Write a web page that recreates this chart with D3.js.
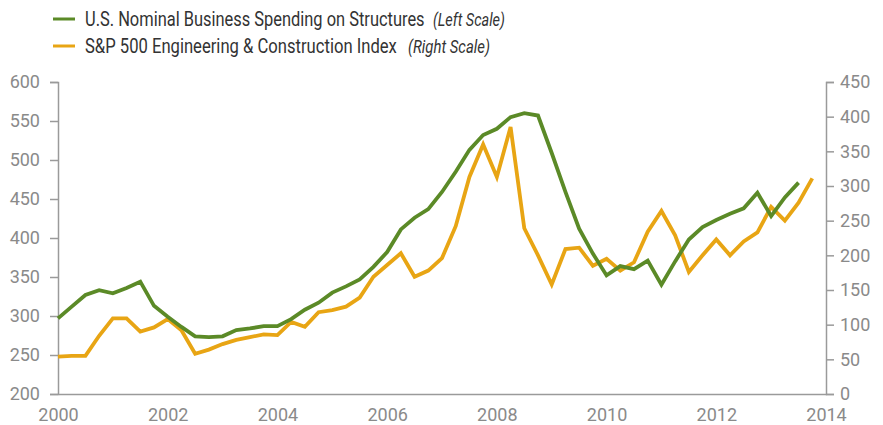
<!DOCTYPE html>
<html>
<head>
<meta charset="utf-8">
<script src="https://cdn.jsdelivr.net/npm/d3@7"></script>
<style>
  body { margin: 0; background: #fff; }
  svg text { font-family: "Roboto", "Liberation Sans", sans-serif; }
</style>
</head>
<body>
<svg width="883" height="425"></svg>
<script>
// quarterly data, first point = 2000 Q1
const startYear = 2000;

// U.S. nominal business spending on structures (left scale)
const spending = [
  297, 312, 327, 333, 329, 336, 344, 313, 299, 286,
  274, 273, 274, 282, 284, 287, 287, 296, 308, 317,
  330, 338, 347, 363, 382, 411, 426, 437, 459, 485,
  513, 532, 540, 555, 560, 557, 509, 459, 412, 380,
  352, 364, 360, 371, 340, 370, 398, 414, 423, 431,
  438, 458, 428, 452, 471
];

// S&P 500 engineering & construction index (right scale)
const spIndex = [
  54, 55, 55, 84, 109, 109, 90, 96, 108, 92,
  58, 64, 72, 78, 82, 86, 85, 104, 97, 118,
  121, 126, 139, 169, 186, 203, 169, 178, 196, 242,
  313, 360, 313, 385, 239, 200, 158, 209, 211, 185,
  195, 178, 190, 234, 264, 229, 176, 200, 223, 200,
  220, 233, 270, 250, 276, 311
];

const xTicks = [2000, 2002, 2004, 2006, 2008, 2010, 2012, 2014];
const leftTicks = [200, 250, 300, 350, 400, 450, 500, 550, 600];
const rightTicks = [0, 50, 100, 150, 200, 250, 300, 350, 400, 450];

const legendItems = [
  { name: 'U.S. Nominal Business Spending on Structures', note: '(Left Scale)', color: '#5b8a27' },
  { name: 'S&P 500 Engineering & Construction Index', note: '(Right Scale)', color: '#e8a514' }
];

const svg = d3.select('svg');
const margin = { top: 82, right: 57, bottom: 31, left: 58 };
const width = +svg.attr('width');
const height = +svg.attr('height');
const innerWidth = width - margin.left - margin.right;
const innerHeight = height - margin.top - margin.bottom;

const g = svg.append('g')
  .attr('transform', `translate(${margin.left},${margin.top})`);

const x = d3.scaleLinear().domain([2000, 2014]).range([0, innerWidth]);
const yLeft = d3.scaleLinear().domain([200, 600]).range([innerHeight, 0]);
const yRight = d3.scaleLinear().domain([0, 450]).range([innerHeight, 0]);

const axisColor = '#9a9a9a';
const labelColor = '#8a8a8a';

function styleAxis(sel) {
  sel.select('.domain').attr('stroke', axisColor).attr('stroke-width', 1.5);
  sel.selectAll('.tick line').attr('stroke', axisColor).attr('stroke-width', 1.5);
  sel.selectAll('.tick text')
    .attr('fill', labelColor)
    .style('font-size', '18px');
}

// left axis
g.append('g')
  .call(d3.axisLeft(yLeft).tickValues(leftTicks).tickSize(8).tickSizeOuter(8).tickPadding(10))
  .call(styleAxis);

// right axis
g.append('g')
  .attr('transform', `translate(${innerWidth},0)`)
  .call(d3.axisRight(yRight).tickValues(rightTicks).tickSize(8).tickSizeOuter(8).tickPadding(6))
  .call(styleAxis);

// bottom axis
g.append('g')
  .attr('transform', `translate(0,${innerHeight})`)
  .call(d3.axisBottom(x).tickValues(xTicks).tickFormat(d3.format('d')).tickSize(0).tickPadding(14))
  .call(styleAxis);

const t = (d, i) => x(startYear + i / 4);

const lineRight = d3.line().x((d, i) => t(d, i)).y(d => yRight(d));
const lineLeft = d3.line().x((d, i) => t(d, i)).y(d => yLeft(d));

g.append('path')
  .datum(spIndex)
  .attr('d', lineRight)
  .attr('fill', 'none')
  .attr('stroke', legendItems[1].color)
  .attr('stroke-width', 3.8);

g.append('path')
  .datum(spending)
  .attr('d', lineLeft)
  .attr('fill', 'none')
  .attr('stroke', legendItems[0].color)
  .attr('stroke-width', 3.8);

// legend - squeeze horizontally to get the condensed look
const nameWidths = [340, 312];
const noteX = [433, 408];
const noteWidths = [72, 82];

const rows = svg.append('g').selectAll('g')
  .data(legendItems).enter()
  .append('g')
  .attr('transform', (d, i) => `translate(0,${19 + i * 27})`);

rows.append('line')
  .attr('x1', 53).attr('x2', 75)
  .attr('stroke', d => d.color)
  .attr('stroke-width', 3);

function squeeze(sel, xs, widths) {
  sel.each(function(d, i) {
    const w = this.getComputedTextLength();
    const s = Math.min(1, widths[i] / w);
    d3.select(this).attr('transform', `translate(${xs[i]},7) scale(${s},1)`);
  });
}

rows.append('text')
  .attr('fill', '#333')
  .style('font-size', '19.5px')
  .text(d => d.name)
  .call(squeeze, [85, 85], nameWidths);

rows.append('text')
  .attr('fill', '#333')
  .style('font-size', '18px')
  .style('font-style', 'italic')
  .text(d => d.note)
  .call(squeeze, noteX, noteWidths);
</script>
</body>
</html>
